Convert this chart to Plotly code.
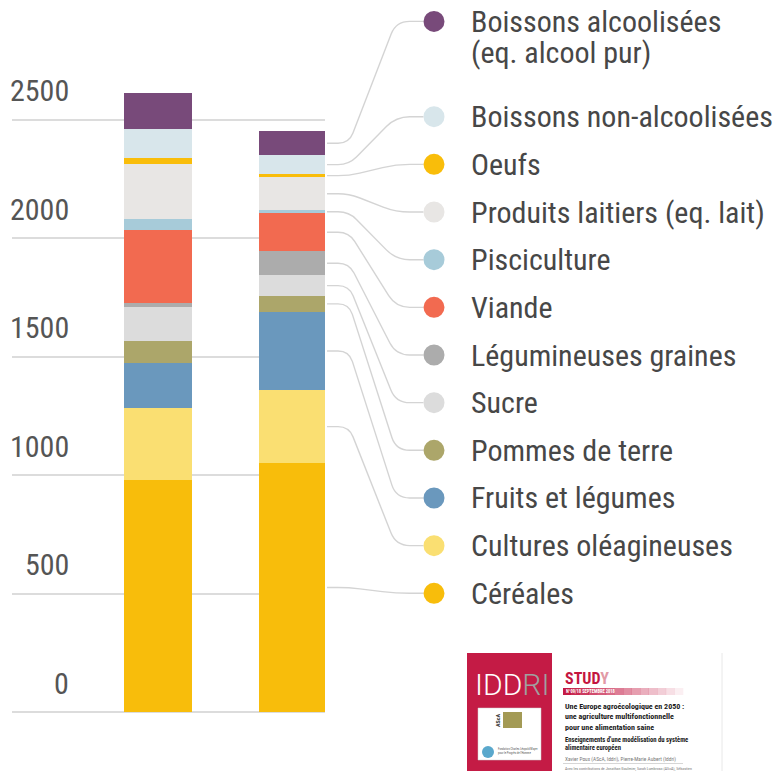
import plotly.graph_objects as go

# ---------------- data ----------------
years = ["2010", "2050"]
categories = [
    "Céréales", "Cultures oléagineuses", "Fruits et légumes", "Pommes de terre",
    "Sucre", "Légumineuses graines", "Viande", "Pisciculture",
    "Produits laitiers (eq. lait)", "Oeufs", "Boissons non-alcoolisées",
    "Boissons alcoolisées",
]
values_2010 = [979, 304, 190, 93, 144, 17, 308, 46, 232, 25, 122, 152]
values_2050 = [1050, 308, 331, 66, 88, 101, 160, 13, 139, 14, 79, 101]
colors = [
    "#f8bd0b", "#fadf72", "#6a98bd", "#aca66a", "#dcdcdc", "#acacac",
    "#f26a50", "#a7cbd9", "#e8e6e4", "#f9bd0a", "#d8e6eb", "#784a7a",
]
y_ticks = [0, 500, 1000, 1500, 2000, 2500]

# ---------------- geometry (window pixels; page body has an 8px margin) ----------------
OFF = 8
W, H = 773, 763
K = 500 / 118.5                       # data units per pixel
Y_RANGE = [(712 - 771) * K, (712 - OFF) * K]
X_RANGE = [-1.081, 1.237]
X_DOMAIN = [(12 - OFF) / W, (325 - OFF) / W]
BAR_W = 0.504
FONT = "Roboto Condensed, Liberation Sans Narrow, Roboto, sans-serif"
TXT = "#474747"


def py(v):
    return 712 - v / K


def pxx(xv):
    return 12 + (xv - X_RANGE[0]) / (X_RANGE[1] - X_RANGE[0]) * 313


def fx(p):
    return (p - OFF) / W


def fy(p):
    return 1 - (p - OFF) / H


fig = go.Figure()
series = {"2010": values_2010, "2050": values_2050}
for i, cat in enumerate(categories):
    fig.add_trace(go.Bar(
        x=years, y=[series[y][i] for y in years], name=cat,
        marker=dict(color=colors[i], line=dict(width=0)),
        width=BAR_W, showlegend=False,
    ))

shapes = []
annotations = []

# y tick labels (drawn above their gridlines)
for t in y_ticks:
    annotations.append(dict(
        x=fx(71), xref="paper", xanchor="right", y=t, yref="y", yanchor="middle",
        yshift=29, text=str(t), showarrow=False,
        font=dict(family=FONT, size=30, color="#555555"),
    ))
# x labels
for yr in years:
    annotations.append(dict(
        x=yr, xref="x", xanchor="center", y=fy(752), yref="paper", yanchor="middle",
        text=yr, showarrow=False, font=dict(family=FONT, size=31, color="#555555"),
    ))

# legend rows
row_y0, row_step = 593.3, 47.66
marker_x, marker_r, text_x = 434, 10.5, 469
legend_rows = list(range(11)) + [12]


def rounded_path(pts, r):
    d = "M %.5f,%.5f" % (fx(pts[0][0]), fy(pts[0][1]))
    for k in range(1, len(pts) - 1):
        (ax, ay), (bx, by), (cx, cy) = pts[k - 1], pts[k], pts[k + 1]
        l1 = ((bx - ax) ** 2 + (by - ay) ** 2) ** 0.5
        l2 = ((cx - bx) ** 2 + (cy - by) ** 2) ** 0.5
        dd = min(r, l1 / 2, l2 / 2)
        p1 = (bx - (bx - ax) / l1 * dd, by - (by - ay) / l1 * dd)
        p2 = (bx + (cx - bx) / l2 * dd, by + (cy - by) / l2 * dd)
        d += " L %.5f,%.5f Q %.5f,%.5f %.5f,%.5f" % (fx(p1[0]), fy(p1[1]), fx(bx), fy(by), fx(p2[0]), fy(p2[1]))
    d += " L %.5f,%.5f" % (fx(pts[-1][0]), fy(pts[-1][1]))
    return d


bar_right = pxx(1 + BAR_W / 2)
cum = 0
for i, cat in enumerate(categories):
    yc = row_y0 - legend_rows[i] * row_step
    v = values_2050[i]
    mid = py(cum + v / 2)
    cum += v
    pts = [(bar_right, mid), (349, mid), (396, yc), (marker_x - marker_r, yc)]
    shapes.append(dict(type="path", xref="paper", yref="paper", path=rounded_path(pts, 14),
                       line=dict(color="#d4d4d4", width=1.4), layer="below"))
    shapes.append(dict(type="circle", xref="paper", yref="paper",
                       x0=fx(marker_x - marker_r), x1=fx(marker_x + marker_r),
                       y0=fy(yc + marker_r), y1=fy(yc - marker_r),
                       fillcolor=colors[i], line=dict(width=0)))
    if cat == "Boissons alcoolisées":
        annotations.append(dict(x=fx(text_x), xref="paper", xanchor="left", y=fy(yc + 31),
                                yref="paper", yanchor="middle", text="(eq. alcool pur)",
                                showarrow=False, font=dict(family=FONT, size=30, color=TXT)))
    annotations.append(dict(x=fx(text_x), xref="paper", xanchor="left", y=fy(yc),
                            yref="paper", yanchor="middle", text=cat, showarrow=False,
                            font=dict(family=FONT, size=30, color=TXT)))


# ---------------- IDDRI study thumbnail ----------------
def rect(x0, y0, x1, y1, fill, line=None, opacity=1):
    shapes.append(dict(type="rect", xref="paper", yref="paper", x0=fx(x0), x1=fx(x1),
                       y0=fy(y1), y1=fy(y0), fillcolor=fill, opacity=opacity,
                       line=line or dict(width=0)))


def txt(x, y, s, size, color="#222222", bold=False, anchor="left", family=FONT, angle=0, weight=None):
    f = dict(family=family, size=size, color=color)
    if weight is not None:
        f["weight"] = weight
    annotations.append(dict(x=fx(x), xref="paper", xanchor=anchor, y=fy(y), yref="paper",
                            yanchor="middle", text=("<b>%s</b>" % s) if bold else s,
                            showarrow=False, font=f, textangle=angle))


rect(467, 653, 552, 775, "#c41b45")
txt(512, 684, "IDD<span style='color:#a0a0a0'>RI</span>", 30, color="#ffffff", anchor="center",
    family="Roboto, Lato, sans-serif", weight=300)
rect(478, 708, 541, 760, "#ffffff", line=dict(color="#cccccc", width=0.5))
rect(503, 712, 522, 728, "#a39a55")
txt(497, 720, "AScA", 6, color="#333333", anchor="center", angle=-90, bold=True)
shapes.append(dict(type="circle", xref="paper", yref="paper", x0=fx(482), x1=fx(494),
                   y0=fy(758), y1=fy(746), fillcolor="#5aa8cc", line=dict(width=0)))
txt(496, 749, "Fondation Charles Léopold Mayer", 3, color="#555555")
txt(496, 753, "pour le Progrès de l'Homme", 3, color="#555555")

txt(563, 678, "STUD<span style='color:#e29aa6'>Y</span>", 16, color="#c4163f", bold=True)
n_steps = 14
for k in range(n_steps):
    x0 = 563 + k * (120 / n_steps)
    rect(x0, 688, x0 + 120 / n_steps + 0.3, 695, "#c41b45", opacity=max(0.05, 1 - k / n_steps))
txt(564, 691.5, "N°09/18 SEPTEMBRE 2018", 4.5, color="#ffffff", bold=True)
txt(563, 706.5, "Une Europe agroécologique en 2050 :", 8, color="#1a1a1a", bold=True)
txt(563, 716.8, "une agriculture multifonctionnelle", 8, color="#1a1a1a", bold=True)
txt(563, 727, "pour une alimentation saine", 8, color="#1a1a1a", bold=True)
txt(563, 739.5, "Enseignements d'une modélisation du système", 6.6, color="#1a1a1a", bold=True)
txt(563, 747.5, "alimentaire européen", 6.6, color="#1a1a1a", bold=True)
txt(563, 759, "Xavier Poux (AScA, Iddri), Pierre-Marie Aubert (Iddri)", 5.4, color="#777777")
shapes.append(dict(type="line", xref="paper", yref="paper", x0=fx(563), x1=fx(683),
                   y0=fy(763.5), y1=fy(763.5), line=dict(color="#bbbbbb", width=0.6)))
txt(563, 768.5, "Avec les contributions de Jonathan Gaulmier, Sarah Lumbroso (AScA), Sébastien", 4,
    color="#777777")
shapes.append(dict(type="line", xref="paper", yref="paper", x0=fx(722), x1=fx(722),
                   y0=fy(653), y1=fy(771), line=dict(color="#e8e8e8", width=1)))

fig.update_layout(
    width=W, height=H, autosize=False,
    margin=dict(l=0, r=0, t=0, b=0, pad=0),
    paper_bgcolor="#ffffff", plot_bgcolor="rgba(0,0,0,0)",
    barmode="stack", bargap=0,
    xaxis=dict(domain=X_DOMAIN, type="category", range=X_RANGE, showticklabels=False,
               showgrid=False, zeroline=False, showline=False, ticks="", fixedrange=True),
    yaxis=dict(range=Y_RANGE, tickvals=y_ticks, showticklabels=False, showgrid=True,
               gridcolor="#dcdcdc", gridwidth=1.6, zeroline=False, showline=False,
               ticks="", fixedrange=True),
    shapes=shapes, annotations=annotations,
    font=dict(family=FONT, color=TXT),
)

fig.write_html("out.html")
